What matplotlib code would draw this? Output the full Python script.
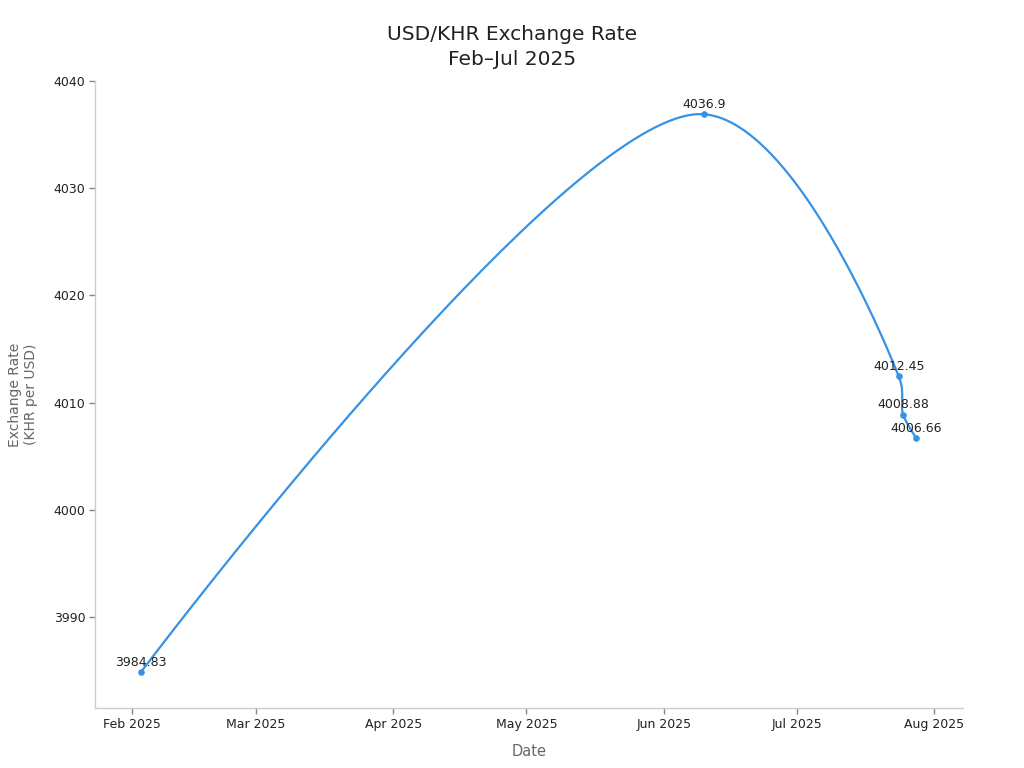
import numpy as np
import pandas as pd
import matplotlib
matplotlib.use("Agg")
import matplotlib.pyplot as plt
import matplotlib.dates as mdates

dates = ["2025-02-03", "2025-06-10", "2025-07-24", "2025-07-25", "2025-07-28"]
rates = [3984.83, 4036.9, 4012.45, 4008.88, 4006.66]
labels = ["3984.83", "4036.9", "4012.45", "4008.88", "4006.66"]

LINE = "#3592e6"


def catmull_rom(P, alpha=0.5, n=80):
    """Centripetal Catmull-Rom (as d3.curveCatmullRom) through pixel points P."""
    P = np.asarray(P, float)
    out = [P[:1]]
    m = len(P)
    for i in range(m - 1):
        p1, p2 = P[i], P[i + 1]
        l12 = np.linalg.norm(p2 - p1)
        l12a, l12_2a = l12 ** alpha, l12 ** (2 * alpha)
        if i > 0:
            p0 = P[i - 1]
            l01 = np.linalg.norm(p1 - p0)
            l01a, l01_2a = l01 ** alpha, l01 ** (2 * alpha)
            a = 2 * l01_2a + 3 * l01a * l12a + l12_2a
            nn = 3 * l01a * (l01a + l12a)
            c1 = (p1 * a - p0 * l12_2a + p2 * l01_2a) / nn
        else:
            c1 = p1
        if i < m - 2:
            p3 = P[i + 2]
            l23 = np.linalg.norm(p3 - p2)
            l23a, l23_2a = l23 ** alpha, l23 ** (2 * alpha)
            b = 2 * l23_2a + 3 * l23a * l12a + l12_2a
            mm = 3 * l23a * (l23a + l12a)
            c2 = (p2 * b + p1 * l23_2a - p3 * l12_2a) / mm
        else:
            c2 = p2
        t = np.linspace(0, 1, n)[1:, None]
        seg = ((1 - t) ** 3) * p1 + 3 * ((1 - t) ** 2) * t * c1 + 3 * (1 - t) * t ** 2 * c2 + t ** 3 * p2
        out.append(seg)
    return np.vstack(out)


plt.rcParams["font.family"] = ["DejaVu Sans"]
fig = plt.figure(figsize=(10.24, 7.68), dpi=100)
ax = fig.add_axes([95 / 1024, 1 - 708 / 768, (963 - 95) / 1024, (708 - 81) / 768])

ax.set_xlim(mdates.date2num(pd.Timestamp("2025-01-23 16:00")),
            mdates.date2num(pd.Timestamp("2025-08-07 12:00")))
ax.set_ylim(3981.5, 4040)

xd = mdates.date2num(pd.to_datetime(dates))
pts = np.column_stack([xd, rates])
pix = ax.transData.transform(pts)
curve_pix = catmull_rom(pix)
curve = ax.transData.inverted().transform(curve_pix)
ax.plot(curve[:, 0], curve[:, 1], color=LINE, lw=1.6, solid_capstyle="round")
ax.scatter(xd, rates, s=14, color=LINE, zorder=3)
for xv, yv, lab in zip(xd, rates, labels):
    ax.annotate(lab, (xv, yv), xytext=(0, 2.5), textcoords="offset points",
                ha="center", va="bottom", fontsize=9, color="#222222")

ax.set_yticks([3990, 4000, 4010, 4020, 4030, 4040])
ax.xaxis.set_major_locator(mdates.MonthLocator())
ax.xaxis.set_major_formatter(mdates.DateFormatter("%b %Y"))

for sp in ["top", "right"]:
    ax.spines[sp].set_visible(False)
for sp in ["left", "bottom"]:
    ax.spines[sp].set_color("#cccccc")
    ax.spines[sp].set_linewidth(1)
ax.tick_params(axis="both", colors="#888888", labelcolor="#222222", labelsize=9, length=4, width=1)
ax.tick_params(axis="y", pad=3)

ax.set_xlabel("Date", fontsize=10.5, color="#666666", labelpad=9)
ax.set_ylabel("Exchange Rate\n(KHR per USD)", fontsize=10, color="#666666", labelpad=11)
fig.suptitle("USD/KHR Exchange Rate\nFeb\u2013Jul 2025", fontsize=14.5, color="#222222",
             y=1 - 25 / 768, va="top", linespacing=1.4)

fig.savefig("out.png", dpi=100)
